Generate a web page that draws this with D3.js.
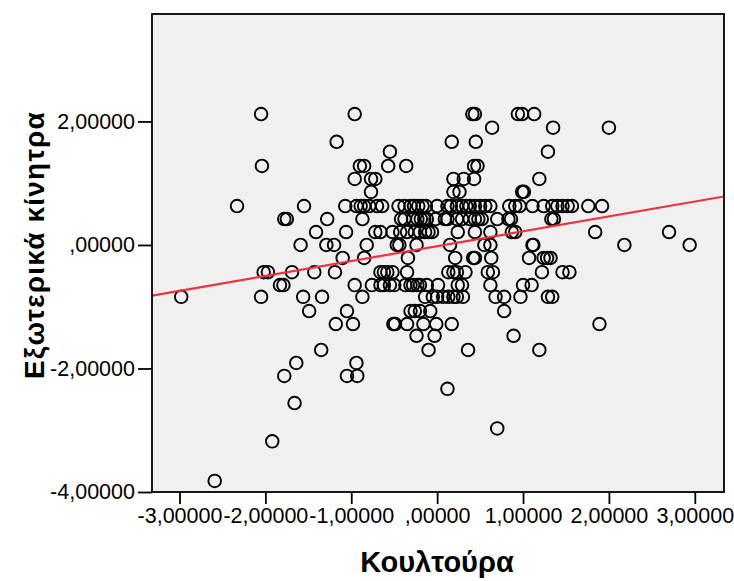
<!DOCTYPE html>
<html>
<head>
<meta charset="utf-8">
<script src="https://cdn.jsdelivr.net/npm/d3@7"></script>
<style>
  body { margin: 0; background: #ffffff; }
  svg { display: block; }
  text { font-family: "Liberation Sans", Arial, sans-serif; fill: #000; }
</style>
</head>
<body>
<svg id="chart" width="734" height="581"></svg>
<script>
// Εξωτερικά κίνητρα (y) take discrete levels; each level lists the Κουλτούρα (x) scores of its cases.
const externalLevels = [
  2.12, 1.90, 1.67, 1.51, 1.28, 1.07, 0.86, 0.63, 0.42, 0.21, 0.00,
  -0.21, -0.44, -0.65, -0.84, -1.07, -1.28, -1.47, -1.70, -1.91, -2.12,
  -2.33, -2.56, -2.97, -3.18, -3.82
];
const cultureByLevel = [
  [-2.05, -0.96, 0.41, 0.44, 0.94, 0.99, 1.13],
  [0.64, 1.35, 2.00],
  [-1.17, 0.17, 0.45],
  [-0.55, 1.29],
  [-2.04, -0.90, -0.85, -0.57, -0.36, 0.43, 0.47],
  [-0.96, -0.77, -0.72, 0.19, 0.31, 0.43, 1.19],
  [-0.77, 0.19, 0.26, 0.99, 1.01],
  [-2.33, -1.55, -1.07, -0.94, -0.89, -0.85, -0.79, -0.70, -0.64, -0.45, -0.38, -0.31, -0.27,
   -0.22, -0.17, -0.13, 0.00, 0.12, 0.16, 0.23, 0.29, 0.34, 0.38, 0.44, 0.50, 0.56, 0.62,
   0.84, 0.91, 0.96, 1.11, 1.24, 1.34, 1.40, 1.46, 1.52, 1.57, 1.76, 1.92],
  [-1.78, -1.75, -1.28, -0.87, -0.42, -0.38, -0.28, -0.23, -0.19, -0.15, -0.12, -0.02, 0.09,
   0.12, 0.23, 0.29, 0.38, 0.44, 0.48, 0.52, 0.70, 0.83, 0.86, 1.33, 1.36],
  [-1.41, -1.06, -0.72, -0.66, -0.52, -0.43, -0.35, -0.26, -0.20, -0.14, -0.10, -0.06, 0.24,
   0.44, 0.62, 0.87, 0.91, 1.84, 2.70],
  [-1.59, -1.29, -1.20, -0.82, -0.47, -0.44, -0.24, 0.15, 0.55, 0.62, 1.11, 1.12, 2.18, 2.94],
  [-1.10, -0.85, -0.34, 0.21, 0.42, 0.44, 0.63, 1.07, 1.24, 1.28, 1.32],
  [-2.02, -1.97, -1.69, -1.43, -1.19, -0.66, -0.62, -0.58, -0.52, -0.35, 0.13, 0.19, 0.23,
   0.33, 0.59, 0.65, 1.22, 1.46, 1.54],
  [-1.83, -1.79, -0.96, -0.76, -0.66, -0.62, -0.55, -0.50, -0.37, -0.31, -0.28, -0.23, -0.20,
   -0.12, 0.01, 0.24, 0.29, 0.62, 1.00, 1.10],
  [-2.98, -2.05, -1.56, -1.34, -0.87, -0.14, -0.05, 0.00, 0.07, 0.13, 0.19, 0.23, 0.30,
   0.68, 0.78, 0.97, 1.29, 1.34],
  [-1.49, -1.05, -0.31, -0.26, -0.20, -0.08, 0.78],
  [-1.18, -0.98, -0.51, -0.49, -0.35, -0.16, -0.01, 0.17, 1.89],
  [-0.24, -0.03, 0.89],
  [-1.35, -0.10, 0.36, 1.19],
  [-1.64, -0.94],
  [-1.78, -1.05, -0.93],
  [0.12],
  [-1.66],
  [0.70],
  [-1.92],
  [-2.59]
];

// Linear fit line (total)
const fitIntercept = -0.02;
const fitSlope = 0.241;

const xDomain = [-3.32, 3.34];
const yDomain = [-4.0, 3.74];
const xTicks = [-3, -2, -1, 0, 1, 2, 3];
const xTickLabels = ["-3,00000", "-2,00000", "-1,00000", ",00000", "1,00000", "2,00000", "3,00000"];
const yTicks = [-4, -2, 0, 2];
const yTickLabels = ["-4,00000", "-2,00000", ",00000", "2,00000"];
const xTitle = "Κουλτούρα";
const yTitle = "Εξωτερικά κίνητρα";

const plot = { left: 152, right: 724, top: 14, bottom: 492 };

const svg = d3.select("#chart");
const x = d3.scaleLinear().domain(xDomain).range([plot.left, plot.right]);
const y = d3.scaleLinear().domain(yDomain).range([plot.bottom, plot.top]);

const points = [];
externalLevels.forEach((lv, i) => cultureByLevel[i].forEach(c => points.push({ c, e: lv })));

// plot background
svg.append("rect")
  .attr("x", plot.left).attr("y", plot.top)
  .attr("width", plot.right - plot.left).attr("height", plot.bottom - plot.top)
  .attr("fill", "#f0f0f0");

svg.append("clipPath").attr("id", "plotClip")
  .append("rect")
  .attr("x", plot.left).attr("y", plot.top)
  .attr("width", plot.right - plot.left).attr("height", plot.bottom - plot.top);

// scatter markers
svg.append("g")
  .selectAll("circle")
  .data(points)
  .join("circle")
  .attr("cx", d => x(d.c))
  .attr("cy", d => y(d.e))
  .attr("r", 6.3)
  .attr("fill", "none")
  .attr("stroke", "#000")
  .attr("stroke-width", 1.9);

// fit line
svg.append("line")
  .attr("clip-path", "url(#plotClip)")
  .attr("x1", x(xDomain[0])).attr("y1", y(fitIntercept + fitSlope * xDomain[0]))
  .attr("x2", x(xDomain[1])).attr("y2", y(fitIntercept + fitSlope * xDomain[1]))
  .attr("stroke", "#ee333d")
  .attr("stroke-width", 2.2);

// frame
svg.append("rect")
  .attr("x", plot.left).attr("y", plot.top)
  .attr("width", plot.right - plot.left).attr("height", plot.bottom - plot.top)
  .attr("fill", "none")
  .attr("stroke", "#000")
  .attr("stroke-width", 1.8);

// axes
const xAxis = d3.axisBottom(x)
  .tickValues(xTicks)
  .tickFormat((d, i) => xTickLabels[i])
  .tickSize(12).tickPadding(4);
const gx = svg.append("g").attr("transform", `translate(0,${plot.bottom})`).call(xAxis);
gx.select(".domain").remove();
gx.selectAll(".tick line").attr("stroke", "#000").attr("stroke-width", 1.8);
gx.selectAll(".tick text").style("font-size", "21.5px").attr("fill", "#000");

const yAxis = d3.axisLeft(y)
  .tickValues(yTicks)
  .tickFormat((d, i) => yTickLabels[i])
  .tickSize(14).tickPadding(3);
const gy = svg.append("g").attr("transform", `translate(${plot.left},0)`).call(yAxis);
gy.select(".domain").remove();
gy.selectAll(".tick line").attr("stroke", "#000").attr("stroke-width", 1.8);
gy.selectAll(".tick text").style("font-size", "21.5px").attr("fill", "#000");

// axis titles
svg.append("text")
  .attr("x", (plot.left + plot.right) / 2 - 1)
  .attr("y", 572)
  .attr("text-anchor", "middle")
  .style("font-size", "29px")
  .style("font-weight", "bold")
  .text(xTitle);

svg.append("text")
  .attr("transform", `translate(44,${(plot.top + plot.bottom) / 2 - 8}) rotate(-90)`)
  .attr("text-anchor", "middle")
  .style("font-size", "28px")
  .style("font-weight", "bold")
  .style("letter-spacing", "1.2px")
  .text(yTitle);
</script>
</body>
</html>
